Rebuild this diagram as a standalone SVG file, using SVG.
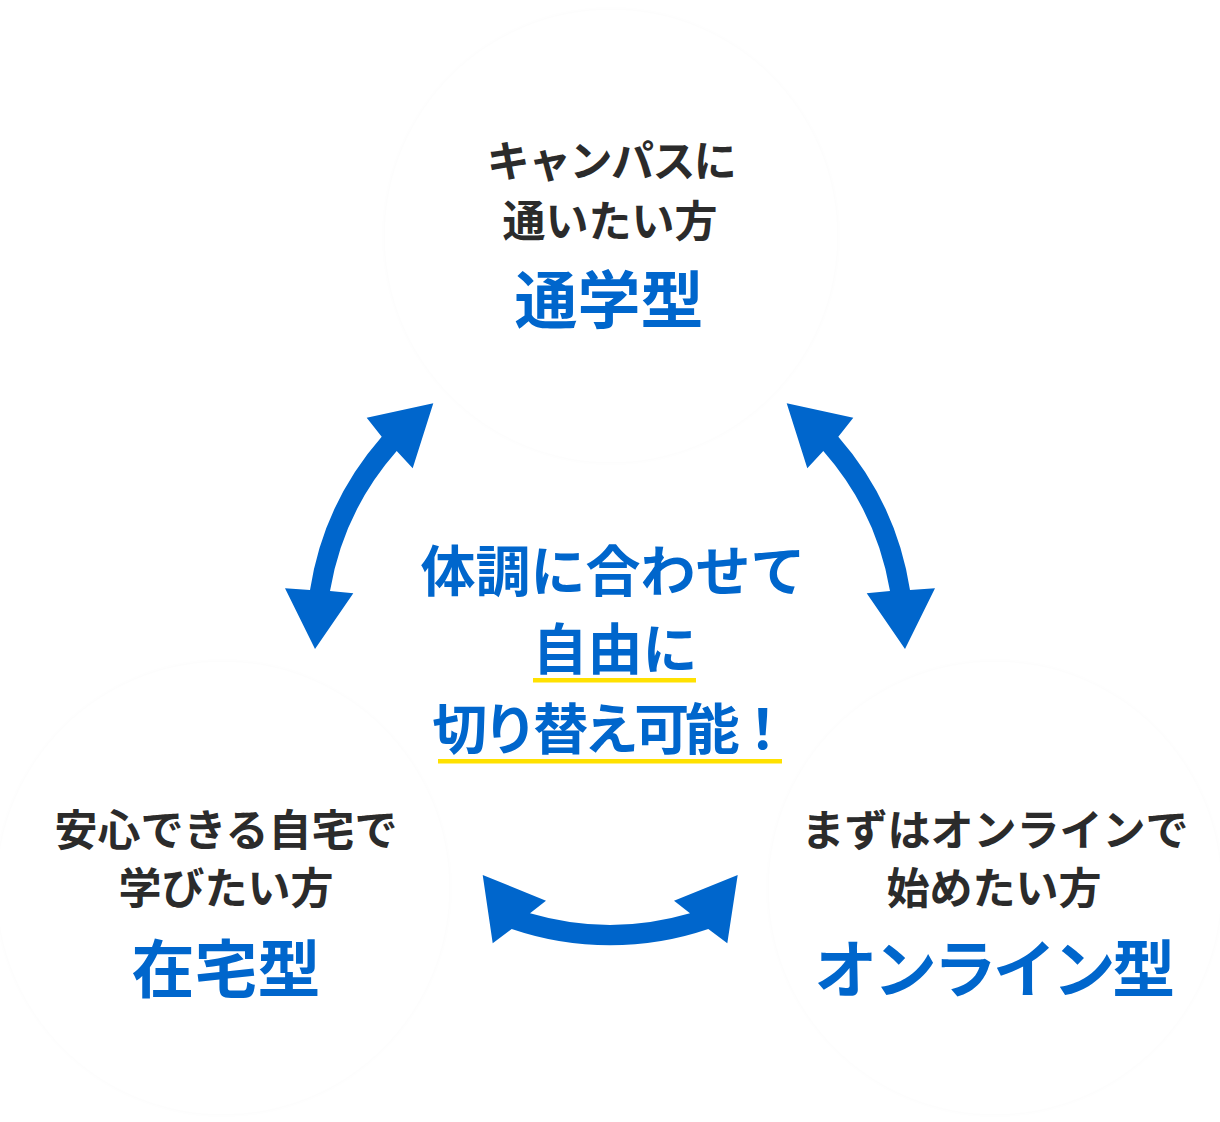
<svg xmlns="http://www.w3.org/2000/svg" width="1220" height="1122" viewBox="0 0 1220 1122">
  <style>
    text { font-family: "Noto Sans CJK JP", "Noto Sans", sans-serif; font-weight: 700; text-anchor: middle; }
    .sub { fill: #2b2b2b; font-size: 43px; }
    .type { fill: #0066cc; font-size: 63px; }
    .msg { fill: #0066cc; font-size: 55px; }
    .circle { fill: #ffffff; filter: url(#sh); }
    .arrow { fill: #0066cc; }
    .ul { fill: #ffe100; }
  </style>
  <defs>
    <filter id="sh" x="-10%" y="-10%" width="120%" height="120%">
      <feDropShadow dx="0" dy="0" stdDeviation="2" flood-color="#000" flood-opacity="0.025"/>
    </filter>
  </defs>
  <rect width="1220" height="1122" fill="#ffffff"/>

  <g id="node-tsugaku">
    <circle class="circle" cx="611" cy="236" r="226"/>
    <text class="sub" x="611" y="177" letter-spacing="-1.6">キャンパスに</text>
    <text class="sub" x="610" y="237">通いたい方</text>
    <text class="type" x="609" y="323">通学型</text>
  </g>

  <g id="node-zaitaku">
    <circle class="circle" cx="223" cy="888" r="226"/>
    <text class="sub" x="226" y="846">安心できる自宅で</text>
    <text class="sub" x="226" y="904">学びたい方</text>
    <text class="type" x="226" y="992">在宅型</text>
  </g>

  <g id="node-online">
    <circle class="circle" cx="995" cy="888" r="226"/>
    <text class="sub" x="995" y="846">まずはオンラインで</text>
    <text class="sub" x="994" y="904">始めたい方</text>
    <text class="type" x="993" y="992" letter-spacing="-3.4">オンライン型</text>
  </g>

  <g id="center-message">
    <text class="msg" x="613" y="591">体調に合わせて</text>
    <rect class="ul" x="533" y="678" width="163" height="4.5"/>
    <text class="msg" x="615" y="669">自由に</text>
    <rect class="ul" x="438" y="759" width="344" height="4.5"/>
    <text class="msg" x="609" y="749" letter-spacing="-4.5">切り替え可能！</text>
  </g>

  <g id="connectors">
    <path class="arrow" d="M433.3,403.3 L412.7,468.3 L396.7,451 A284,284 0 0 0 330,591 L353.3,593.3 L315,649 L285,588.3 L310,590 A304,304 0 0 1 381.7,436.7 L366.7,417.7 Z"/>
    <path class="arrow" transform="translate(1220,0) scale(-1,1)" d="M433.3,403.3 L412.7,468.3 L396.7,451 A284,284 0 0 0 330,591 L353.3,593.3 L315,649 L285,588.3 L310,590 A304,304 0 0 1 381.7,436.7 L366.7,417.7 Z"/>
    <path class="arrow" d="M482.7,875 L546,900.7 L530,913.3 A284,284 0 0 0 690,913.3 L674,900.7 L737.7,875 L727.3,943.3 L708.3,929 A304,304 0 0 1 511.7,929 L492.7,943.3 Z"/>
  </g>
</svg>
